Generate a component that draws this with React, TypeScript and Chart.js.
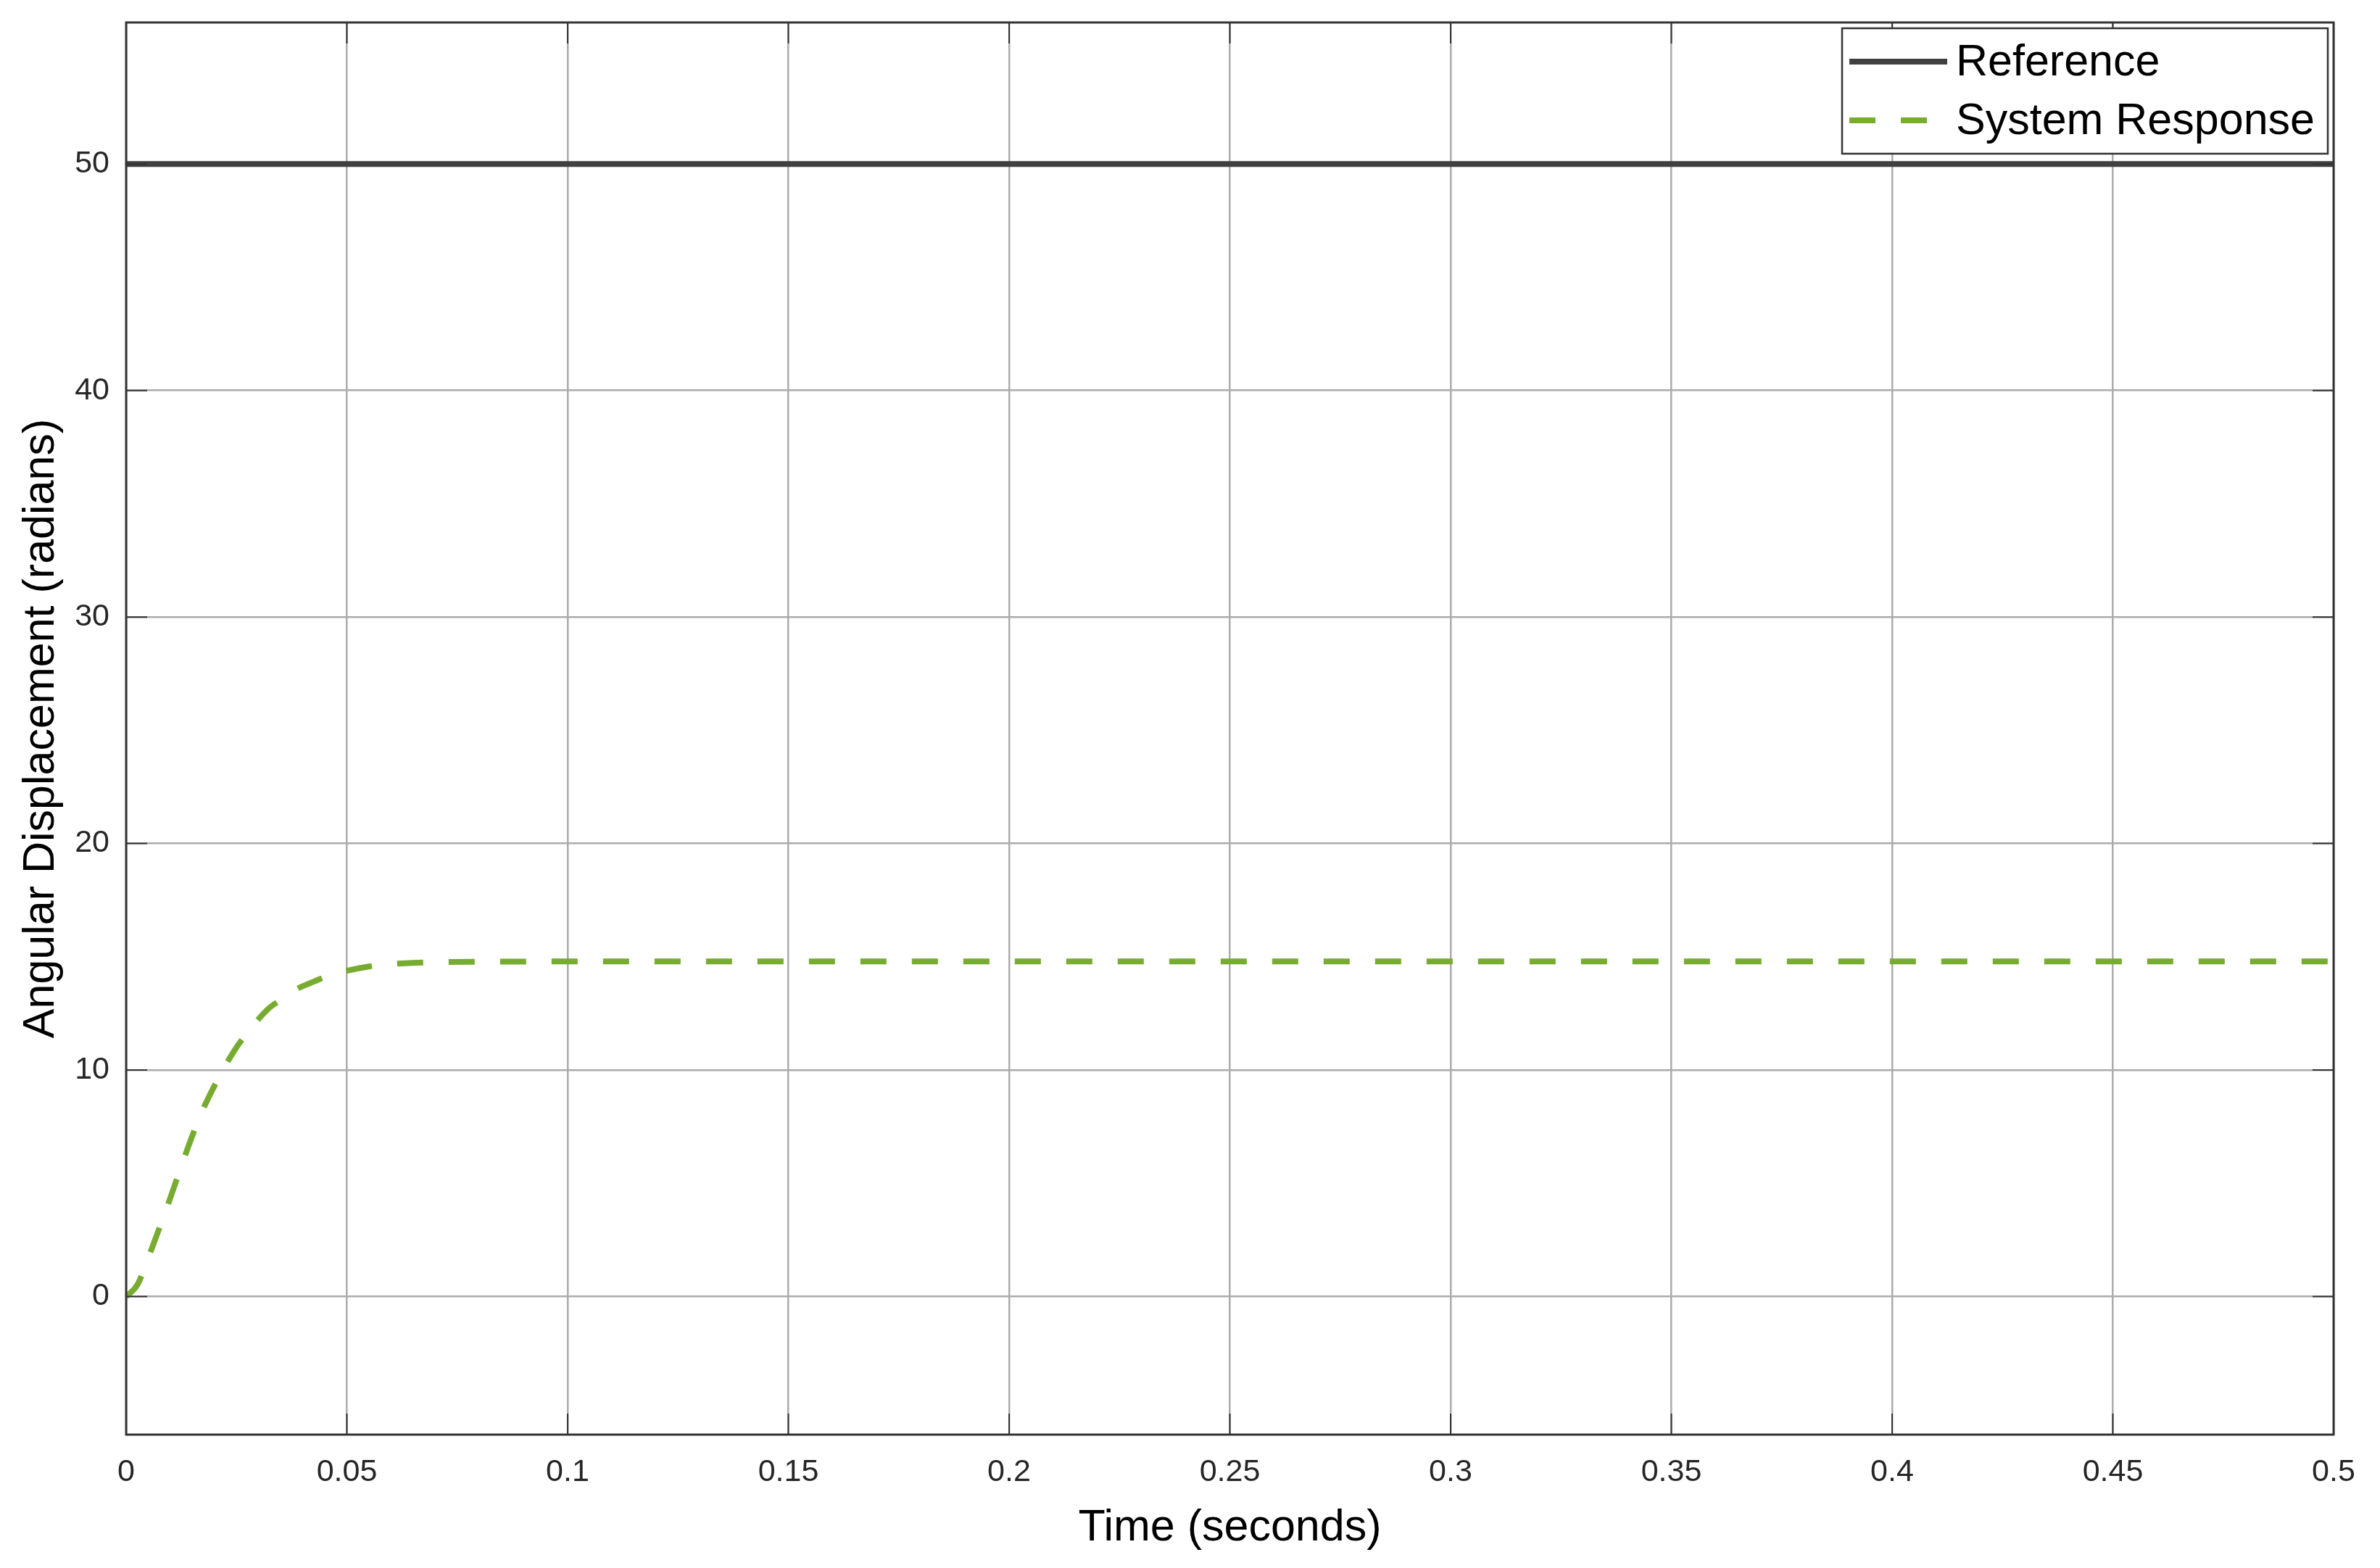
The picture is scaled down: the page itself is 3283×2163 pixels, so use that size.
import React, { useEffect, useRef } from "react";
import { Chart, registerables } from "chart.js";

Chart.register(...registerables);

// ---- Data ----
const seriesLabels = ["Reference", "System Response"];
const referenceTime = [0, 0.5];
const referenceValues = [50, 50];
const responseTime = [
  0, 0.0025, 0.005, 0.0075, 0.01, 0.0125, 0.015, 0.0175, 0.02, 0.0225, 0.025,
  0.0275, 0.03, 0.0325, 0.035, 0.0375, 0.04, 0.0425, 0.045, 0.0475, 0.05,
  0.055, 0.06, 0.065, 0.07, 0.08, 0.1, 0.2, 0.3, 0.4, 0.5,
];
const responseValues = [
  0, 0.5, 1.7, 3.0, 4.35, 5.75, 7.1, 8.3, 9.3, 10.2, 11.0, 11.65, 12.25, 12.75,
  13.1, 13.45, 13.7, 13.9, 14.1, 14.25, 14.38, 14.57, 14.68, 14.73, 14.76,
  14.78, 14.79, 14.79, 14.79, 14.79, 14.79,
];
const xTickValues = [0, 0.05, 0.1, 0.15, 0.2, 0.25, 0.3, 0.35, 0.4, 0.45, 0.5];
const yTickValues = [0, 10, 20, 30, 40, 50];
const xTitle = "Time (seconds)";
const yTitle = "Angular Displacement (radians)";

const FONT = "'Liberation Sans', Arial, Helvetica, sans-serif";
const AXIS_COLOR = "#333333";
const GRID_COLOR = "#ababab";
const REF_COLOR = "#404040";
const RESP_COLOR = "#77AC30";

const boxPlugin = {
  id: "matlabBox",
  afterDatasetsDraw(chart: any) {
    const { ctx, chartArea } = chart;
    const { left, right, top, bottom } = chartArea;
    ctx.save();
    ctx.strokeStyle = AXIS_COLOR;
    ctx.lineWidth = 2;
    const tl = 29;
    const xs = chart.scales.x;
    const ys = chart.scales.y;
    ctx.beginPath();
    xs.ticks.forEach((t: any) => {
      const px = xs.getPixelForValue(t.value);
      ctx.moveTo(px, bottom);
      ctx.lineTo(px, bottom - tl);
      ctx.moveTo(px, top);
      ctx.lineTo(px, top + tl);
    });
    ys.ticks.forEach((t: any) => {
      const py = ys.getPixelForValue(t.value);
      ctx.moveTo(left, py);
      ctx.lineTo(left + tl, py);
      ctx.moveTo(right, py);
      ctx.lineTo(right - tl, py);
    });
    ctx.stroke();
    ctx.lineWidth = 3;
    ctx.strokeRect(left, top, right - left, bottom - top);
    ctx.restore();
  },
  afterDraw(chart: any) {
    const { ctx, chartArea } = chart;
    const fontSize = 61;
    ctx.save();
    ctx.font = `${fontSize}px ${FONT}`;
    const datasets = chart.data.datasets;
    const maxText = Math.max(
      ...datasets.map((d: any) => ctx.measureText(d.label).width)
    );
    const padL = 10;
    const sample = 135;
    const gap = 12;
    const padR = 18;
    const rowH = 81;
    const firstRow = 46;
    const w = padL + sample + gap + maxText + padR;
    const h = firstRow * 2 + rowH * (datasets.length - 1);
    const x0 = chartArea.right - 8 - w;
    const y0 = chartArea.top + 8;
    ctx.fillStyle = "#ffffff";
    ctx.fillRect(x0, y0, w, h);
    ctx.strokeStyle = AXIS_COLOR;
    ctx.lineWidth = 2.5;
    ctx.strokeRect(x0, y0, w, h);
    datasets.forEach((d: any, i: number) => {
      const cy = y0 + firstRow + i * rowH;
      ctx.beginPath();
      ctx.strokeStyle = d.borderColor;
      ctx.lineWidth = d.borderWidth;
      ctx.setLineDash(d.borderDash || []);
      ctx.moveTo(x0 + padL, cy);
      ctx.lineTo(x0 + padL + sample, cy);
      ctx.stroke();
      ctx.setLineDash([]);
      ctx.fillStyle = "#000000";
      ctx.textAlign = "left";
      ctx.textBaseline = "middle";
      ctx.fillText(d.label, x0 + padL + sample + gap, cy + 2);
    });
    ctx.restore();
  },
};

export default function App() {
  const canvasRef = useRef<HTMLCanvasElement | null>(null);

  useEffect(() => {
    document.body.style.margin = "0";
    document.body.style.background = "#ffffff";
    const canvas = canvasRef.current;
    if (!canvas) return;
    const chart = new Chart(canvas, {
      type: "line",
      data: {
        datasets: [
          {
            label: seriesLabels[0],
            data: referenceTime.map((t, i) => ({ x: t, y: referenceValues[i] })),
            borderColor: REF_COLOR,
            borderWidth: 8,
            pointRadius: 0,
            fill: false,
          },
          {
            label: seriesLabels[1],
            data: responseTime.map((t, i) => ({ x: t, y: responseValues[i] })),
            borderColor: RESP_COLOR,
            borderWidth: 8,
            borderDash: [36, 35],
            pointRadius: 0,
            fill: false,
            cubicInterpolationMode: "monotone",
          },
        ],
      },
      options: {
        animation: false,
        responsive: false,
        devicePixelRatio: 1,
        layout: { padding: { top: 31, right: 64, left: 0, bottom: 0 } },
        plugins: {
          legend: { display: false },
          tooltip: { enabled: false },
        },
        scales: {
          x: {
            type: "linear",
            min: 0,
            max: 0.5,
            afterBuildTicks: (scale: any) => {
              scale.ticks = xTickValues.map((v) => ({ value: v }));
            },
            afterFit: (scale: any) => {
              scale.height = 184;
              scale.paddingLeft = 0;
              scale.paddingRight = 0;
            },
            grid: {
              color: GRID_COLOR,
              lineWidth: 2.5,
              drawTicks: false,
            },
            border: { display: false },
            ticks: {
              padding: 26,
              maxRotation: 0,
              autoSkip: false,
              color: "#262626",
              font: { family: FONT, size: 43 },
              callback: (v: any) => String(parseFloat(Number(v).toFixed(3))),
            },
            title: {
              display: true,
              text: xTitle,
              color: "#000000",
              font: { family: FONT, size: 61 },
              padding: { top: 0, bottom: 18 },
            },
          },
          y: {
            type: "linear",
            min: -6.1,
            max: 56.25,
            afterBuildTicks: (scale: any) => {
              scale.ticks = yTickValues.map((v) => ({ value: v }));
            },
            afterFit: (scale: any) => {
              scale.width = 174;
              scale.paddingTop = 0;
              scale.paddingBottom = 0;
            },
            grid: {
              color: GRID_COLOR,
              lineWidth: 2.5,
              drawTicks: false,
            },
            border: { display: false },
            ticks: {
              padding: 23,
              autoSkip: false,
              color: "#262626",
              font: { family: FONT, size: 43 },
              callback: (v: any) => String(v),
            },
            title: {
              display: true,
              text: yTitle,
              color: "#000000",
              font: { family: FONT, size: 61 },
              padding: { top: 21, bottom: 0 },
            },
          },
        },
      },
      plugins: [boxPlugin],
    } as any);
    return () => chart.destroy();
  }, []);

  return (
    <canvas
      ref={canvasRef}
      width={3283}
      height={2163}
      style={{ display: "block", width: 3283, height: 2163 }}
    />
  );
}
